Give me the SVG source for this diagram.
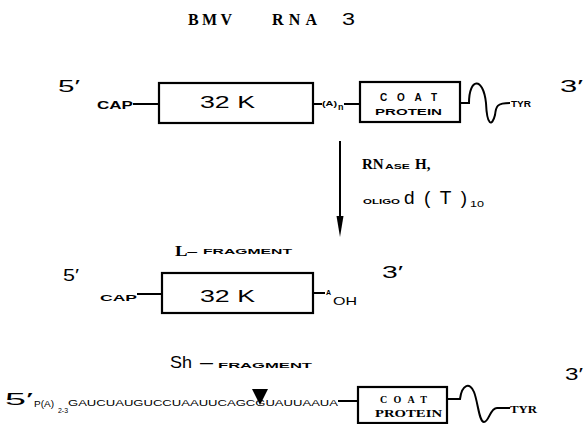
<svg xmlns="http://www.w3.org/2000/svg" width="583" height="424" viewBox="0 0 583 424">
<style>
.ln{fill:none;stroke:#000;stroke-width:2}
.box{fill:#fff;stroke:#000;stroke-width:2.2}
.sans{font-family:"Liberation Sans",Arial,sans-serif;font-weight:bold;fill:#000}
.reg{font-family:"Liberation Sans",Arial,sans-serif;fill:#000}
.serif{font-family:"Liberation Serif","Times New Roman",serif;font-weight:bold;fill:#000}
.prime{font-family:"Liberation Sans",Arial,sans-serif;font-size:16px;fill:#000}
</style>
<rect width="583" height="424" fill="#fff"/>
<g id="title">
<text class="serif" x="188" y="25" font-size="16" textLength="44" lengthAdjust="spacing">BMV</text>
<text class="serif" x="272" y="25" font-size="16" textLength="45" lengthAdjust="spacing">RNA</text>
<text class="reg" x="342" y="25" font-size="16" textLength="13" lengthAdjust="spacingAndGlyphs">3</text>
</g>

<g id="connectors">
<line class="ln" x1="340" y1="141" x2="340" y2="222" stroke-width="2.5"/>
<path d="M336.5,216 L343.5,216 L340,237 Z" fill="#000"/>
<!-- row 1 -->
<line class="ln" x1="133" y1="104" x2="159" y2="104"/>
<line class="ln" x1="313" y1="104" x2="322" y2="104"/>
<line class="ln" x1="344" y1="104" x2="360" y2="104"/>
<path class="ln" d="M460,103 L469,103 C469,78 483,76 486,103 C487,126 492,127 495,115 C496,106 497,103 510,103"/>
<!-- row 2 -->
<line class="ln" x1="137" y1="294" x2="162" y2="294"/>
<line class="ln" x1="313" y1="293" x2="325" y2="293"/>
<!-- row 3 -->
<line class="ln" x1="338" y1="401" x2="358" y2="401"/>
<path class="ln" d="M447,399 L460,399 C462,384 470,382 474,392 C478,402 479,422 484,422 C489,422 490,408 497,408 L510,408"/>
<path d="M252,389 L268,389 L260,405 Z" fill="#000"/>
</g>

<g id="row1">
<text class="prime" x="58" y="92" textLength="22" lengthAdjust="spacingAndGlyphs">5′</text>
<text class="sans" x="97" y="109" font-size="10" textLength="36" lengthAdjust="spacingAndGlyphs">CAP</text>
<g id="n32k"><rect class="box" x="159" y="83" width="154" height="40"/>
<text class="reg" x="200" y="108" font-size="17" textLength="55" lengthAdjust="spacingAndGlyphs">32 K</text></g>
<text class="sans" x="322" y="106" font-size="8" textLength="15" lengthAdjust="spacingAndGlyphs">(A)</text>
<text class="sans" x="338" y="110" font-size="9">n</text>
<g id="coat1"><rect class="box" x="360" y="82" width="100" height="40"/>
<text class="sans" x="380" y="101" font-size="10" textLength="57" lengthAdjust="spacing">COAT</text>
<text class="sans" x="375" y="114.5" font-size="9" textLength="67" lengthAdjust="spacingAndGlyphs">PROTEIN</text></g>
<text class="sans" x="511" y="107" font-size="8.5" textLength="20" lengthAdjust="spacingAndGlyphs">TYR</text>
<text class="prime" x="560" y="92" textLength="23" lengthAdjust="spacingAndGlyphs">3′</text>
</g>

<g id="reaction">
<text class="serif" x="362" y="169" font-size="15">RN</text>
<text class="sans" x="385" y="169" font-size="7" textLength="25" lengthAdjust="spacingAndGlyphs">ASE</text>
<text class="serif" x="415" y="169" font-size="15">H,</text>
<text class="sans" x="363" y="204" font-size="7.5" textLength="37" lengthAdjust="spacingAndGlyphs">OLIGO</text>
<text class="reg" x="404" y="204" font-size="19" textLength="63" lengthAdjust="spacing">d(T)</text>
<text class="reg" x="470" y="207" font-size="9" textLength="14" lengthAdjust="spacingAndGlyphs">10</text>
</g>

<g id="row2">
<text class="serif" x="175" y="256" font-size="15" textLength="22" lengthAdjust="spacingAndGlyphs">L–</text>
<text class="sans" x="203" y="254" font-size="8" textLength="89" lengthAdjust="spacingAndGlyphs">FRAGMENT</text>
<text class="prime" x="63" y="281" textLength="16" lengthAdjust="spacingAndGlyphs">5′</text>
<text class="sans" x="100" y="301" font-size="9" textLength="37" lengthAdjust="spacingAndGlyphs">CAP</text>
<g id="n32k2"><rect class="box" x="162" y="273" width="151" height="40"/>
<text class="reg" x="200" y="302" font-size="17" textLength="55" lengthAdjust="spacingAndGlyphs">32 K</text></g>
<text class="sans" x="326" y="295" font-size="7">A</text>
<text class="reg" x="333" y="305" font-size="11" textLength="24" lengthAdjust="spacingAndGlyphs">OH</text>
<text class="prime" x="382" y="278" textLength="21" lengthAdjust="spacingAndGlyphs">3′</text>
</g>

<g id="row3">
<text class="reg" x="170" y="368" font-size="17" textLength="22" lengthAdjust="spacingAndGlyphs">Sh</text>
<text class="reg" x="200" y="368" font-size="17" textLength="13" lengthAdjust="spacingAndGlyphs">–</text>
<text class="sans" x="218" y="368" font-size="8" textLength="94" lengthAdjust="spacingAndGlyphs">FRAGMENT</text>
<text class="prime" x="5" y="405" font-size="18" textLength="28" lengthAdjust="spacingAndGlyphs">5′</text>
<text class="reg" x="34" y="407" font-size="9.5" textLength="20" lengthAdjust="spacingAndGlyphs">P(A)</text>
<text class="reg" x="58" y="413" font-size="6.5" textLength="10" lengthAdjust="spacingAndGlyphs">2-3</text>
<text class="reg" x="68" y="406" font-size="9.5" textLength="270" lengthAdjust="spacingAndGlyphs">GAUCUAUGUCCUAAUUCAGCGUAUUAAUA</text>
<g id="coat2"><rect class="box" x="358" y="387" width="89" height="36"/>
<text class="serif" x="380" y="403" font-size="10" textLength="47" lengthAdjust="spacing">COAT</text>
<text class="serif" x="375" y="416.5" font-size="10.5" textLength="67" lengthAdjust="spacingAndGlyphs">PROTEIN</text></g>
<text class="serif" x="510" y="413" font-size="10.5" textLength="27" lengthAdjust="spacingAndGlyphs">TYR</text>
<text class="prime" x="565" y="380" textLength="18" lengthAdjust="spacingAndGlyphs">3′</text>
</g>
</svg>
